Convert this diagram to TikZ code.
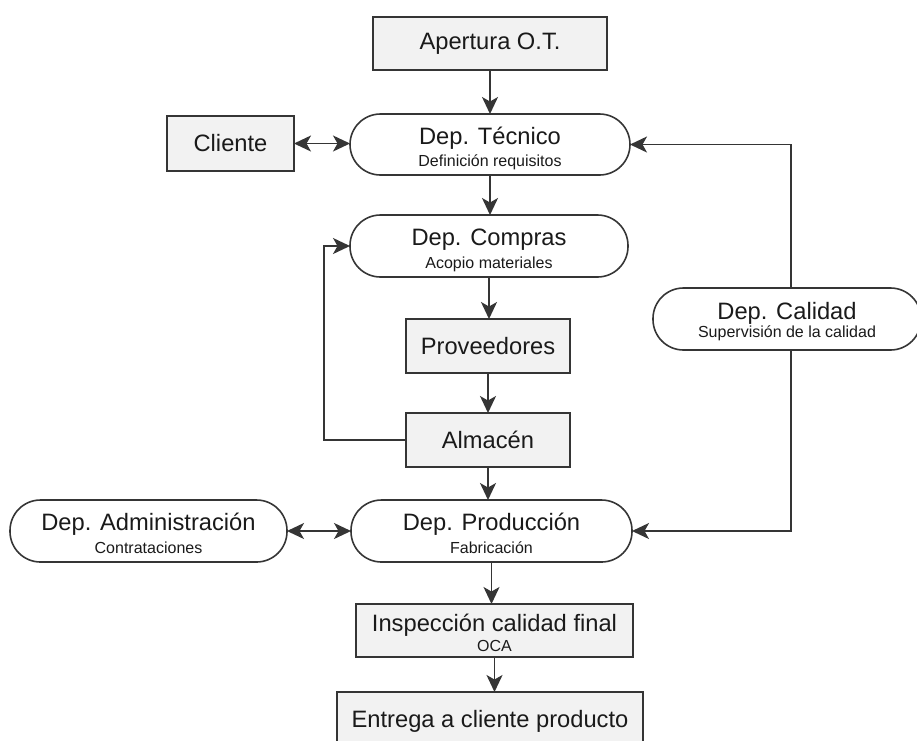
\documentclass[tikz,border=0pt]{standalone}
\usepackage{fontspec}
\setmainfont{Liberation Sans}
\usetikzlibrary{arrows.meta}
\definecolor{ink}{HTML}{353535}
\definecolor{txt}{HTML}{1A1A1A}
\definecolor{boxfill}{HTML}{F2F2F2}

\begin{document}
\begin{tikzpicture}[x=1pt,y=-1pt,
  every node/.style={inner sep=0pt, outer sep=0pt, text=txt},
  edge/.style={draw=ink, line width=1.6pt},
  rectbox/.style={edge, fill=boxfill, rectangle},
  pill/.style={edge, fill=white, rounded corners=30.5pt},
  big/.style={font=\fontsize{23.7}{26}\selectfont},
  small/.style={font=\fontsize{16}{18}\selectfont},
  tip/.tip={Stealth[length=17pt,width=16pt,inset=4.5pt]},
  link/.style={draw=ink, line width=1.7pt, -tip},
  dlink/.style={draw=ink, line width=1.7pt, tip-tip},
]
\useasboundingbox (0,0) rectangle (917,740);
\fill[white] (0,0) rectangle (917,740);
\clip (0,0) rectangle (917,740);

% main column
\node[rectbox, minimum width=234, minimum height=53, big] (apertura) at (490,43.5) {Apertura O.T.};
\node[rectbox, minimum width=127, minimum height=55, big] (cliente) at (230.5,143.5) {Cliente};

\node[pill, minimum width=280, minimum height=61] (tecnico) at (490,144.5) {};
\node[big, anchor=base] (tecnico-t) at ([yshift=0.5pt]tecnico.center) {Dep. Técnico};
\node[small, anchor=base] (tecnico-s) at ([yshift=-22pt]tecnico.center) {Definición requisitos};

\node[pill, minimum width=278, minimum height=62] (compras) at (489,246) {};
\node[big, anchor=base] (compras-t) at ([yshift=0.5pt]compras.center) {Dep. Compras};
\node[small, anchor=base] (compras-s) at ([yshift=-22pt]compras.center) {Acopio materiales};

\node[rectbox, minimum width=164, minimum height=54, big] (proveedores) at (488,346) {Proveedores};
\node[rectbox, minimum width=164, minimum height=54, big] (almacen) at (488,440) {Almacén};

\node[pill, minimum width=277, minimum height=62] (admin) at (148.5,531) {};
\node[big, anchor=base] (admin-t) at ([yshift=0.5pt]admin.center) {Dep. Administración};
\node[small, anchor=base] (admin-s) at ([yshift=-22pt]admin.center) {Contrataciones};

\node[pill, minimum width=281, minimum height=62] (produccion) at (491.5,531) {};
\node[big, anchor=base] (produccion-t) at ([yshift=0.5pt]produccion.center) {Dep. Producción};
\node[small, anchor=base] (produccion-s) at ([yshift=-22pt]produccion.center) {Fabricación};

\node[pill, minimum width=268, minimum height=62] (calidad) at (787,319) {};
\node[big, anchor=base] (calidad-t) at ([yshift=0pt]calidad.center) {Dep. Calidad};
\node[small, anchor=base] (calidad-s) at ([yshift=-18pt]calidad.center) {Supervisión de la calidad};

\node[rectbox, minimum width=277, minimum height=53] (insp) at (494.5,630.5) {};
\node[big, anchor=base] (insp-t) at ([yshift=-0.5pt]insp.center) {Inspección calidad final};
\node[small, anchor=base] (insp-s) at ([yshift=-20.5pt]insp.center) {OCA};

\node[rectbox, minimum width=306, minimum height=74] (entrega) at (490,729) {};
\node[big, anchor=base] (entrega-t) at ([yshift=2pt]entrega.center) {Entrega a cliente producto};

% connectors
\draw[link] (apertura.south) -- (tecnico.north);
\draw[dlink] (cliente.east) -- (cliente.east -| tecnico.west);
\draw[link] (tecnico.south) -- (tecnico.south |- compras.north);
\draw[link] (compras.south) -- (compras.south |- proveedores.north);
\draw[link] (proveedores.south) -- (almacen.north);
\draw[link] (almacen.west) -| ([xshift=-26pt]compras.west) -- (compras.west);
\draw[link] (almacen.south) -- (almacen.south |- produccion.north);
\draw[dlink] (admin.east) -- (produccion.west);
\draw[link] (produccion.south) -- (produccion.south |- insp.north);
\draw[link] (insp.south) -- (insp.south |- entrega.north);
\draw[link] ([xshift=4pt]calidad.north) |- (tecnico.east);
\draw[link] ([xshift=4pt]calidad.south) |- (produccion.east);
\end{tikzpicture}
\end{document}
